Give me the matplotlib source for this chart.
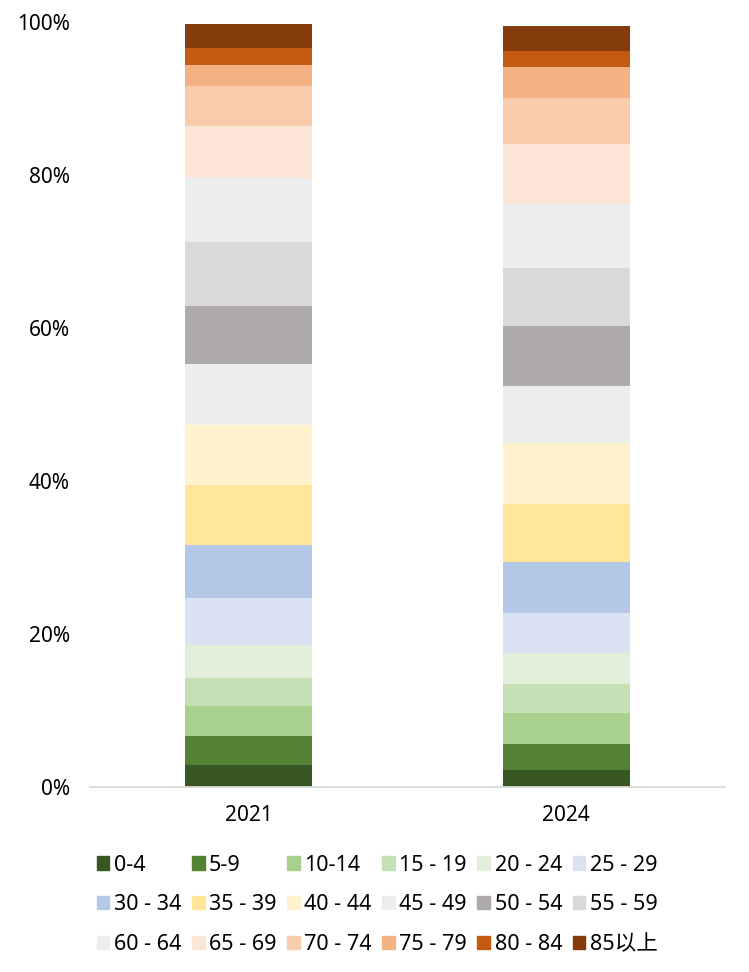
import numpy as np
import matplotlib.pyplot as plt
from matplotlib.patches import Patch
from matplotlib.ticker import FuncFormatter

plt.rcParams['font.family'] = ['Noto Sans', 'Noto Sans CJK SC', 'DejaVu Sans']

# years and age groups
years = ['2021', '2024']
groups = ['0-4', '5-9', '10-14', '15 - 19', '20 - 24', '25 - 29',
          '30 - 34', '35 - 39', '40 - 44', '45 - 49', '50 - 54', '55 - 59',
          '60 - 64', '65 - 69', '70 - 74', '75 - 79', '80 - 84', '85以上']

# share of population (%)
share_2021 = [2.92, 3.76, 3.93, 3.70, 4.28, 6.15, 6.94, 7.85, 7.85, 7.85,
              7.63, 8.38, 8.38, 6.77, 5.24, 2.75, 2.23, 3.14]
share_2024 = [2.26, 3.40, 3.97, 3.84, 4.02, 5.24, 6.68, 7.59, 7.98, 7.46,
              7.76, 7.59, 8.38, 7.85, 6.02, 4.02, 2.13, 3.27]

colors = ['#385723', '#548235', '#a9d18e', '#c5e0b4', '#e2efda', '#dae3f3',
          '#b4c7e7', '#ffe699', '#fff2cc', '#ededed', '#aeaaaa', '#d9d9d9',
          '#ededed', '#fbe5d6', '#f8cbad', '#f4b183', '#c55a11', '#843c0c']

data = np.array([share_2021, share_2024]).T
x = np.arange(len(years))

fig = plt.figure(figsize=(7.49, 9.72), dpi=100)
ax = fig.add_axes([90/749, 1-787/972, 635/749, 765/972])

bottom = np.zeros(len(years))
for i, g in enumerate(groups):
    ax.bar(x, data[i], 0.4, bottom=bottom, color=colors[i], label=g)
    bottom += data[i]

ax.set_xlim(-0.5, 1.5)
ax.set_ylim(0, 100)
ax.set_yticks(np.arange(0, 101, 20))
ax.yaxis.set_major_formatter(FuncFormatter(lambda v, p: f'{v:.0f}%'))
ax.set_xticks(x)
ax.set_xticklabels(years)
for s in ['top', 'right', 'left']:
    ax.spines[s].set_visible(False)
ax.spines['bottom'].set_color('#d9d9d9')
ax.spines['bottom'].set_linewidth(1.3)
ax.tick_params(axis='both', length=0, labelsize=15)
ax.tick_params(axis='y', pad=14.5)
ax.tick_params(axis='x', pad=13)

# legend: one small legend per column so the columns sit on a fixed grid
handles = [Patch(color=c) for c in colors]
for c in range(6):
    idx = [r * 6 + c for r in range(3)]
    fig.legend([handles[k] for k in idx], [groups[k] for k in idx],
               loc='upper left', bbox_to_anchor=((96.5 + 95.2 * c) / 749, 1 - 854.5/972),
               frameon=False, fontsize=15.5, handlelength=0.6, handleheight=0.6,
               handletextpad=0.2, labelspacing=0.87, borderaxespad=0, borderpad=0)

fig.savefig('out.png', dpi=100)
